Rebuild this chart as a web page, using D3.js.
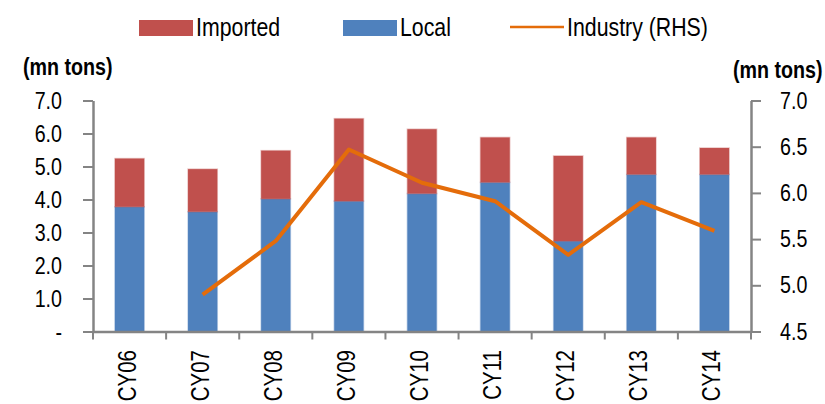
<!DOCTYPE html>
<html>
<head>
<meta charset="utf-8">
<script src="https://cdn.jsdelivr.net/npm/d3@7"></script>
<style>
  html, body { margin: 0; padding: 0; background: #fff; }
  svg { display: block; }
  .narrow { font-family: "Liberation Sans", Arial, sans-serif; }
</style>
</head>
<body>
<svg id="chart" width="825" height="404"></svg>
<script>
// Coal supply by source (left axis) and industry total (right axis)
const categories = ["CY06", "CY07", "CY08", "CY09", "CY10", "CY11", "CY12", "CY13", "CY14"];
const local    = [3.78, 3.63, 4.02, 3.95, 4.18, 4.52, 2.74, 4.76, 4.76];
const imported = [1.46, 1.29, 1.46, 2.50, 1.95, 1.36, 2.58, 1.12, 0.80];
const industry = [null, 4.90, 5.48, 6.47, 6.11, 5.91, 5.33, 5.90, 5.59];
const leftTicks  = [0, 1, 2, 3, 4, 5, 6, 7];
const rightTicks = [4.5, 5.0, 5.5, 6.0, 6.5, 7.0];

const colors = { imported: "#C0504D", local: "#4F81BD", industry: "#E46C0A", axis: "#848484" };
const condense = 0.82; // horizontal squeeze for the condensed typeface look

const svg = d3.select("#chart");
const plotLeft = 93, plotRight = 751, plotTop = 100.5, plotBottom = 331.5;

const x = d3.scaleBand(categories, [plotLeft, plotRight]).paddingInner(0).paddingOuter(0);
const yL = d3.scaleLinear([0, 7], [plotBottom, plotTop]);
const yR = d3.scaleLinear([4.5, 7], [plotBottom, plotTop]);
const barW = x.bandwidth() * 0.4;

// Place a text at (px, py) and squeeze it horizontally about that point
function squeeze(sel, px, py, rot = 0) {
  sel.attr("x", 0).attr("y", 0)
    .attr("transform", `translate(${px},${py}) rotate(${rot}) scale(${condense},1)`);
}

// Stacked bars: local at the base, imported on top
const rows = categories.map((c, i) => ({ c, local: local[i], imported: imported[i] }));
const stack = d3.stack().keys(["local", "imported"])(rows);

svg.append("g").selectAll("g")
  .data(stack)
  .join("g")
  .attr("fill", s => colors[s.key])
  .attr("stroke", s => colors[s.key])
  .attr("stroke-opacity", 0.35)
  .attr("stroke-width", 1.5)
  .selectAll("rect")
  .data(s => s)
  .join("rect")
  .attr("x", d => x(d.data.c) + (x.bandwidth() - barW) / 2)
  .attr("width", barW)
  .attr("y", d => yL(d[1]))
  .attr("height", d => yL(d[0]) - yL(d[1]));

// Axes
function styleAxis(g) {
  g.select(".domain").attr("stroke", colors.axis).attr("stroke-width", 2.5);
  g.selectAll(".tick line").attr("stroke", colors.axis).attr("stroke-width", 2);
  g.selectAll(".tick text").attr("fill", "#000");
}

const gL = svg.append("g")
  .attr("transform", `translate(${plotLeft},0)`)
  .call(d3.axisLeft(yL).tickValues(leftTicks).tickSize(10).tickSizeOuter(0).tickPadding(21)
    .tickFormat(v => v === 0 ? "-" : d3.format(".1f")(v)));
styleAxis(gL);
gL.selectAll(".tick text").attr("class", "narrow").attr("font-size", 24)
  .each(function () { squeeze(d3.select(this), -31, 0); });

const gR = svg.append("g")
  .attr("transform", `translate(${plotRight},0)`)
  .call(d3.axisRight(yR).tickValues(rightTicks).tickSize(10).tickSizeOuter(0).tickPadding(19)
    .tickFormat(d3.format(".1f")));
styleAxis(gR);
gR.selectAll(".tick text").attr("class", "narrow").attr("font-size", 24)
  .each(function () { squeeze(d3.select(this), 29, 0); });

// Category axis: labels at band centres, ticks at band boundaries
const gX = svg.append("g")
  .attr("transform", `translate(0,${plotBottom})`)
  .call(d3.axisBottom(x).tickSize(0).tickSizeOuter(0).tickPadding(0));
gX.select(".domain").attr("stroke", colors.axis).attr("stroke-width", 2.5);
gX.selectAll(".tick text")
  .attr("class", "narrow")
  .attr("font-size", 25)
  .attr("fill", "#000")
  .attr("text-anchor", "end")
  .attr("dy", "0.36em")
  .each(function () { squeeze(d3.select(this), -3, 18.5, -90); });

const bounds = categories.map(c => x(c)).concat([x.range()[1]]);
gX.append("g").selectAll("line")
  .data(bounds)
  .join("line")
  .attr("x1", d => d).attr("x2", d => d)
  .attr("y1", 0).attr("y2", 8)
  .attr("stroke", colors.axis).attr("stroke-width", 2);

// Industry line on the right-hand scale
const line = d3.line()
  .defined(d => d.v != null)
  .x(d => x(d.c) + x.bandwidth() / 2)
  .y(d => yR(d.v));

svg.append("path")
  .datum(categories.map((c, i) => ({ c, v: industry[i] })))
  .attr("fill", "none")
  .attr("stroke", colors.industry)
  .attr("stroke-width", 4)
  .attr("stroke-linejoin", "round")
  .attr("d", line);

// Axis unit titles
svg.append("text").attr("class", "narrow")
  .attr("font-size", 24).attr("font-weight", "bold").text("(mn tons)")
  .call(squeeze, 23, 75);
svg.append("text").attr("class", "narrow")
  .attr("font-size", 24).attr("font-weight", "bold").text("(mn tons)")
  .call(squeeze, 733, 78);

// Legend
const legend = svg.append("g").attr("class", "narrow").attr("font-size", 26);
const items = [
  { label: "Imported", key: "imported", x: 139, type: "rect" },
  { label: "Local", key: "local", x: 343, type: "rect" },
  { label: "Industry (RHS)", key: "industry", x: 510, type: "line" }
];
items.forEach(it => {
  if (it.type === "rect") {
    legend.append("rect").attr("x", it.x).attr("y", 20).attr("width", 54).attr("height", 16)
      .attr("fill", colors[it.key]);
  } else {
    legend.append("line").attr("x1", it.x).attr("x2", it.x + 54).attr("y1", 27).attr("y2", 27)
      .attr("stroke", colors[it.key]).attr("stroke-width", 2.5);
  }
  legend.append("text").attr("fill", "#000").text(it.label)
    .call(squeeze, it.x + 57, 36);
});
</script>
</body>
</html>
